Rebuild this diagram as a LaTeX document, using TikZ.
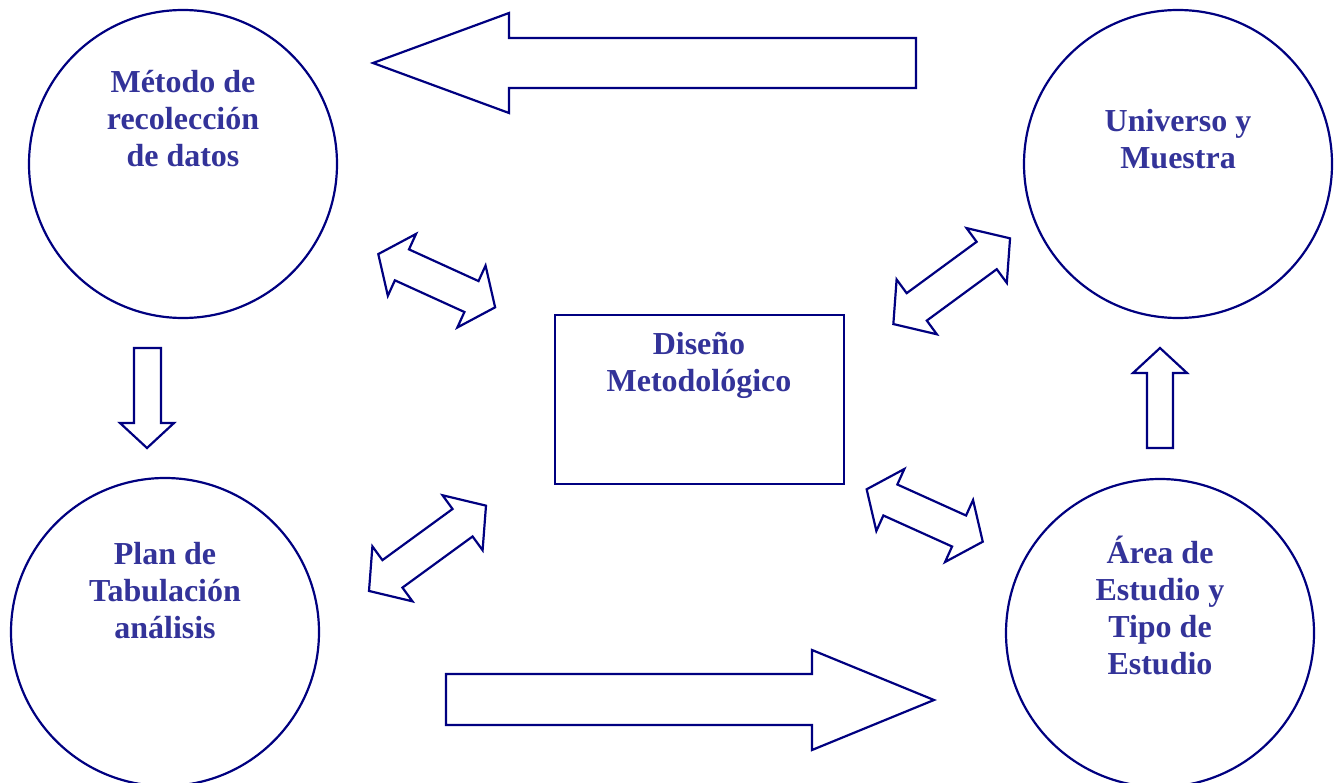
\documentclass[tikz,border=0pt]{standalone}
\usepackage{fontspec}
\setmainfont{Liberation Serif}
\definecolor{navyline}{RGB}{0,0,128}
\definecolor{txtblue}{RGB}{51,51,153}
% double block arrow: center x, center y, angle, half length, head length
\newcommand{\dblarr}[6]{%
  \draw[shp, shift={(#2,#3)}, rotate=#4]
    (-#5,0) -- ({-#5+#6},34) -- ({-#5+#6},17) -- ({#5-#6},17) -- ({#5-#6},34)
    -- (#5,0) -- ({#5-#6},-34) -- ({#5-#6},-17) -- ({-#5+#6},-17) -- ({-#5+#6},-34) -- cycle;
  \coordinate (#1) at (#2,#3);}
\begin{document}
\begin{tikzpicture}[x=1pt,y=-1pt,
  shp/.style={draw=navyline, line width=2.2pt, fill=white, line join=miter},
  circ/.style={shp, circle, minimum size=308pt, inner sep=0pt},
  lbl/.style={text=txtblue, font=\fontsize{32}{37}\selectfont\bfseries, inner sep=0pt, anchor=base}]
\useasboundingbox (0,0) rectangle (1338,783);
\fill[white] (0,0) rectangle (1338,783);

% circles
\node[circ] (metodo) at (183,164) {};
\node[circ] (universo) at (1178,164) {};
\node[circ] (plan) at (165,632) {};
\node[circ] (area) at (1160,633) {};
% central box
\node[shp, rectangle, minimum width=289pt, minimum height=169pt, inner sep=0pt, anchor=north west] (diseno) at (554,314) {};

% big block arrows
\draw[shp] (373,63) coordinate (topTip) -- (509,13) -- (509,38) -- (916,38) -- (916,88) -- (509,88) -- (509,113) -- cycle;
\draw[shp] (934,700) coordinate (botTip) -- (812,650) -- (812,674) -- (446,674) -- (446,725) -- (812,725) -- (812,750) -- cycle;
% small vertical arrows
\draw[shp] (147,448) coordinate (downTip) -- (120,423) -- (134,423) -- (134,348) -- (161,348) -- (161,423) -- (174,423) -- cycle;
\draw[shp] (1160,348) coordinate (upTip) -- (1187,373) -- (1173,373) -- (1173,448) -- (1147,448) -- (1147,373) -- (1133,373) -- cycle;

% double arrows
\dblarr{d1}{436.7}{280.7}{-24.5}{64.2}{26}
\dblarr{d2}{951.7}{281.2}{36.3}{72.4}{29}
\dblarr{d3}{427.5}{548.3}{36.1}{72.4}{29}
\dblarr{d4}{924.7}{515.5}{-24.3}{63.7}{26}

% labels
\node[lbl] (tMetodo) at (183,93) {\begin{tabular}[t]{@{}c@{}}Método de\\recolección\\de datos\end{tabular}};
\node[lbl] (tUniverso) at (1178,132) {\begin{tabular}[t]{@{}c@{}}Universo y\\Muestra\end{tabular}};
\node[lbl] (tPlan) at (165,564) {\begin{tabular}[t]{@{}c@{}}Plan de\\Tabulación\\análisis\end{tabular}};
\node[lbl] (tArea) at (1160,563) {\begin{tabular}[t]{@{}c@{}}Área de\\Estudio y\\Tipo de\\Estudio\end{tabular}};
\node[lbl] (tDiseno) at (699,355) {\begin{tabular}[t]{@{}c@{}}Diseño\\Metodológico\end{tabular}};
\end{tikzpicture}
\end{document}
